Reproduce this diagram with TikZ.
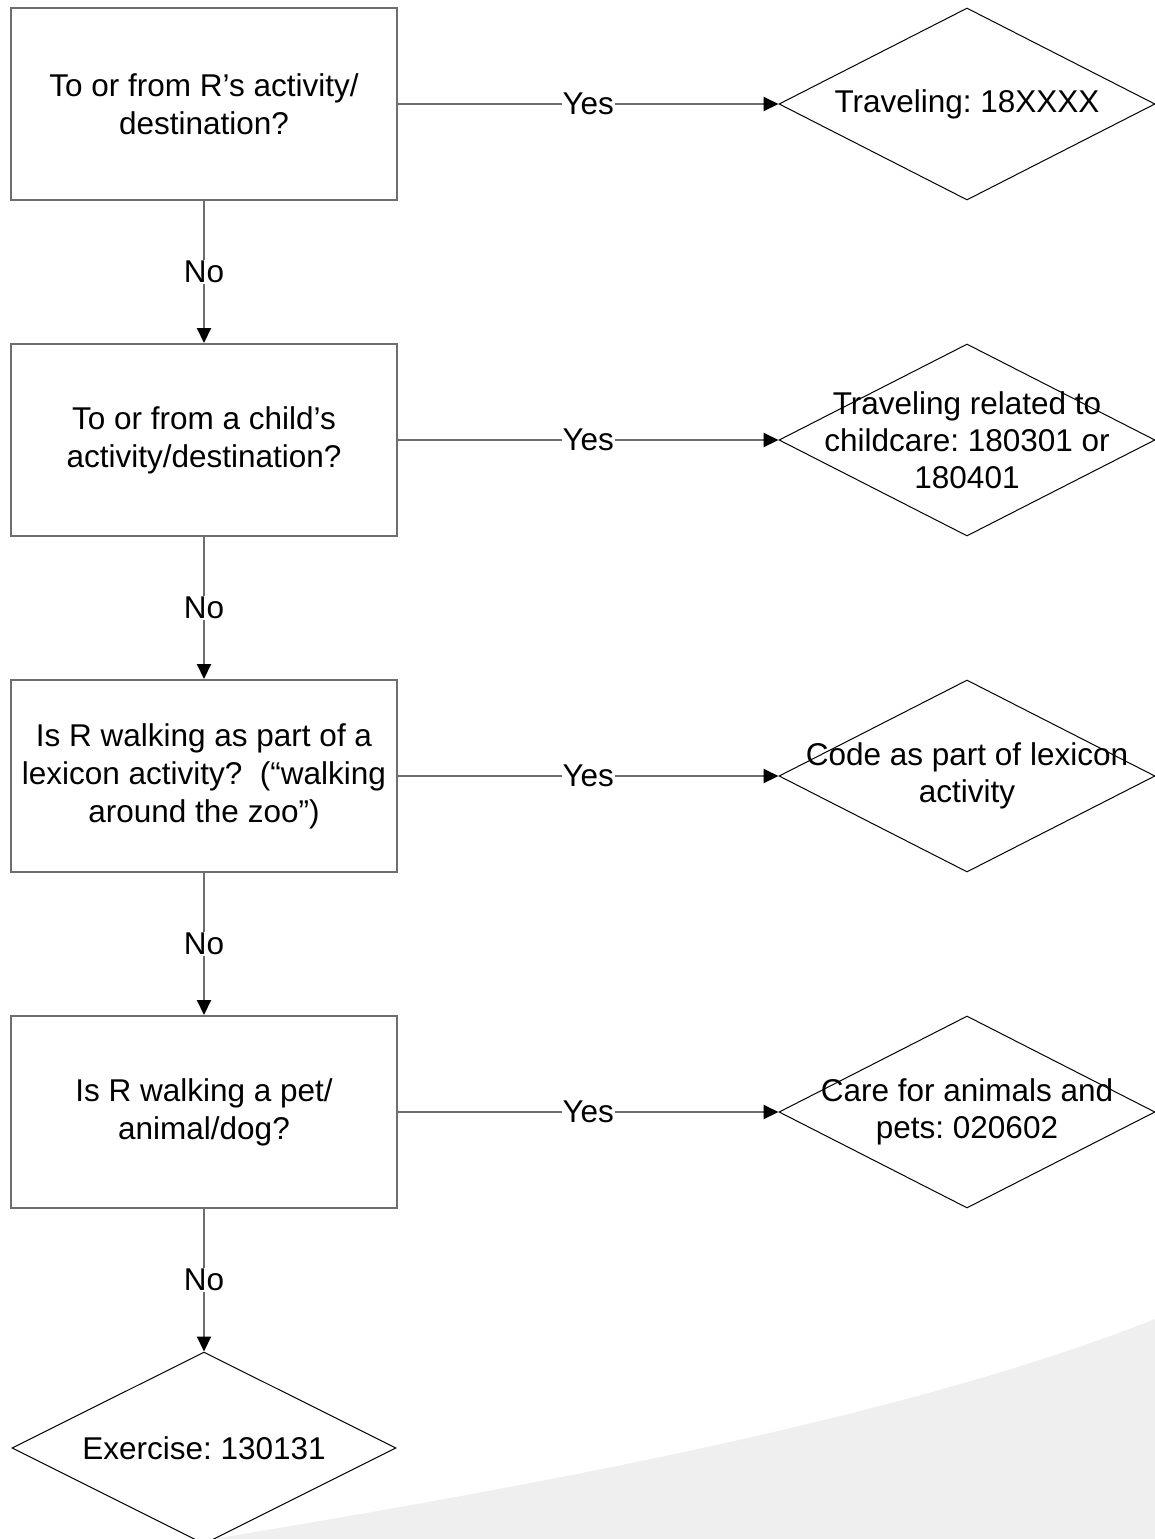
\documentclass[tikz,border=0pt]{standalone}
\usepackage{fontspec}
\setmainfont{Liberation Sans}
\frenchspacing
\usetikzlibrary{shapes.geometric,arrows.meta}
\definecolor{linegray}{RGB}{110,110,110}
\definecolor{swoosh}{RGB}{239,239,239}
\begin{document}
\begin{tikzpicture}[x=1pt,y=-1pt,
    question/.style={draw=linegray,line width=2pt,minimum width=386pt,minimum height=192pt,
        align=center,inner sep=0pt,font=\fontsize{31.5}{38}\selectfont},
    decision/.style={draw=black,line width=1pt,diamond,minimum width=376pt,minimum height=192pt,inner sep=0pt},
    answer/.style={align=center,font=\fontsize{31.5}{37}\selectfont},
    flow/.style={draw=linegray,line width=2pt,-{Triangle[length=15pt,width=14pt,black]}},
    choice/.style={fill=white,inner sep=1pt,font=\fontsize{31.5}{37}\selectfont}]
    \useasboundingbox (0,0) rectangle (1155,1539);
    % background swoosh
    \fill[swoosh] (213,1539) .. controls (520,1488) and (900,1420) .. (1155,1319) -- (1155,1539) -- cycle;
    % questions
    \node[question] (q1) at (204,104) {To or from R’s activity/\\destination?};
    \node[question] (q2) at (204,440) {To or from a child’s\\activity/destination?};
    \node[question] (q3) at (204,776) {Is R walking as part of a\\lexicon activity?\ \ (“walking\\around the zoo”)};
    \node[question] (q4) at (204,1112) {Is R walking a pet/\\animal/dog?};
    % outcomes
    \node[decision,label={[answer]center:Traveling: 18XXXX}] (d1) at (967,104) {};
    \node[decision,label={[answer]center:Traveling related to\\childcare: 180301 or\\180401}] (d2) at (967,440) {};
    \node[decision,label={[answer]center:Code as part of lexicon\\activity}] (d3) at (967,776) {};
    \node[decision,label={[answer]center:Care for animals and\\pets: 020602}] (d4) at (967,1112) {};
    \node[decision,minimum width=384pt,label={[answer]center:Exercise: 130131}] (d5) at (204,1448) {};
    % yes branches
    \foreach \i in {1,2,3,4}
        \draw[flow] (q\i.east) -- node[choice] {Yes} (d\i.west);
    % no branches
    \draw[flow] (q1.south) -- node[choice] {No} (q2.north);
    \draw[flow] (q2.south) -- node[choice] {No} (q3.north);
    \draw[flow] (q3.south) -- node[choice] {No} (q4.north);
    \draw[flow] (q4.south) -- node[choice] {No} (d5.north);
\end{tikzpicture}
\end{document}
